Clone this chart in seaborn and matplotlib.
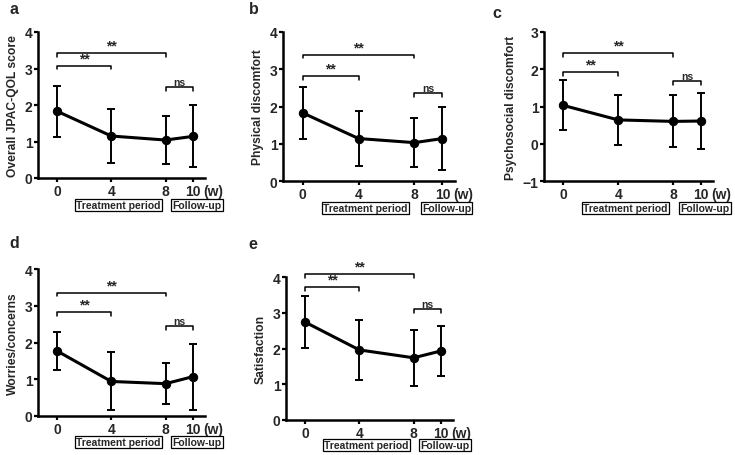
import numpy as np
import pandas as pd
import matplotlib
matplotlib.use("Agg")
import matplotlib.pyplot as plt
import seaborn as sns

# data (mean +/- SD at each week)
weeks = [0, 4, 8, 10]

overall_mean = [1.83, 1.15, 1.04, 1.14]
overall_sd = [0.70, 0.74, 0.66, 0.85]

physical_mean = [1.83, 1.14, 1.03, 1.14]
physical_sd = [0.70, 0.74, 0.66, 0.85]

psycho_mean = [1.03, 0.64, 0.60, 0.61]
psycho_sd = [0.67, 0.67, 0.70, 0.74]

worries_mean = [1.77, 0.94, 0.88, 1.07]
worries_sd = [0.51, 0.79, 0.56, 0.90]

satisf_mean = [2.74, 1.96, 1.74, 1.93]
satisf_sd = [0.72, 0.85, 0.79, 0.70]

panel_letters = ["a", "b", "c", "d", "e"]
ylabels = ["Overall JPAC-QOL score", "Physical discomfort",
           "Psychosocial discomfort", "Worries/concerns", "Satisfaction"]
ylims = [(0, 4), (0, 4), (-1, 3), (0, 4), (0, 4)]

# significance brackets: (start week, end week, height, label)
brackets = [
    [(0, 8, 3.42, "**"), (0, 4, 3.08, "**"), (8, 10, 2.49, "ns")],
    [(0, 8, 3.39, "**"), (0, 4, 2.81, "**"), (8, 10, 2.35, "ns")],
    [(0, 8, 2.44, "**"), (0, 4, 1.93, "**"), (8, 10, 1.68, "ns")],
    [(0, 8, 3.36, "**"), (0, 4, 2.82, "**"), (8, 10, 2.45, "ns")],
    [(0, 8, 4.08, "**"), (0, 4, 3.72, "**"), (8, 10, 3.10, "ns")],
]

means = [overall_mean, physical_mean, psycho_mean, worries_mean, satisf_mean]
sds = [overall_sd, physical_sd, psycho_sd, worries_sd, satisf_sd]

sns.set_theme(style="ticks")
plt.rcParams["font.family"] = ["Liberation Sans", "DejaVu Sans"]
plt.rcParams["font.weight"] = "bold"
plt.rcParams["axes.labelweight"] = "bold"

W, H = 735, 456
fig = plt.figure(figsize=(W / 100, H / 100), dpi=100)

# axes boxes in pixels: left, top, right, bottom
boxes_px = [(38, 33, 205, 179), (283, 33, 455, 182), (544, 33, 713, 182),
            (38, 270, 205, 417), (286, 278, 453, 421)]
letter_px = [(9, 9), (249, 9), (492, 13), (9, 243), (248, 245)]
box_off_px = [27, 27, 27, 26, 25]

for i in range(5):
    l, t, r, b = boxes_px[i]
    ax = fig.add_axes([l / W, 1 - b / H, (r - l) / W, (b - t) / H])
    df = pd.DataFrame({"week": weeks, "score": means[i], "sd": sds[i]})

    ax.errorbar(df["week"], df["score"], yerr=df["sd"], fmt="none",
                ecolor="black", elinewidth=1.4, capsize=3, capthick=1.4,
                zorder=2)
    sns.lineplot(data=df, x="week", y="score", ax=ax, color="black",
                 linewidth=2.2, marker="o", markersize=6,
                 markeredgecolor="black", zorder=3)

    ax.set_xlim(-1.4, 10.9)
    ax.set_ylim(*ylims[i])
    ax.set_xticks(weeks)
    ax.set_yticks(np.arange(ylims[i][0], ylims[i][1] + 1, 1))
    ax.set_xlabel("")
    ax.set_ylabel(ylabels[i], fontsize=8.7, fontweight="bold", labelpad=4)
    ax.tick_params(axis="both", labelsize=10, length=3, width=1.6,
                   pad=1, color="black")
    for lab in ax.get_xticklabels() + ax.get_yticklabels():
        lab.set_fontweight("bold")
    sns.despine(ax=ax)
    for s in ["left", "bottom"]:
        ax.spines[s].set_linewidth(1.8)
        ax.spines[s].set_color("black")

    # "(w)" unit next to the last tick
    ax.annotate("(w)", xy=(10, 0), xycoords=("data", "axes fraction"),
                xytext=(7.5, -4), textcoords="offset points",
                ha="left", va="top", fontsize=10, fontweight="bold")

    # period boxes under the axis
    off = -box_off_px[i] * 0.72
    for xc, txt in [(4.5, "Treatment period"), (10.3, "Follow-up")]:
        ax.annotate(txt, xy=(xc, 0), xycoords=("data", "axes fraction"),
                    xytext=(0, off), textcoords="offset points",
                    ha="center", va="center", fontsize=7.5, fontweight="bold",
                    bbox=dict(boxstyle="square,pad=0.12", fc="white",
                              ec="black", lw=0.9))

    # significance brackets
    span = ylims[i][1] - ylims[i][0]
    hook = 0.025 * span
    for x1, x2, y, lab in brackets[i]:
        ax.plot([x1, x1, x2, x2], [y - hook, y, y, y - hook], color="black",
                lw=1.1, clip_on=False)
        fs = 10 if lab == "**" else 7.5
        ax.text((x1 + x2) / 2, y + 0.003 * span, lab, ha="center",
                va="bottom", fontsize=fs, fontweight="bold", clip_on=False)

    fig.text(letter_px[i][0] / W, 1 - letter_px[i][1] / H, panel_letters[i],
             ha="left", va="center", fontsize=11.5, fontweight="bold")

fig.savefig("out.png", dpi=100, facecolor="white")
